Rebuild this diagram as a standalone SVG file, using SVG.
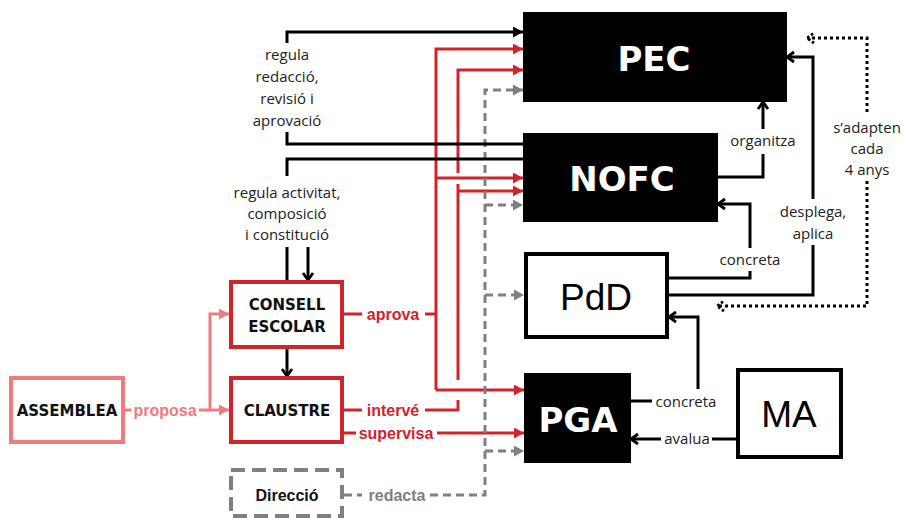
<svg xmlns="http://www.w3.org/2000/svg" width="904" height="519" viewBox="0 0 904 519">
<defs>
<style>
.k{stroke:#000;stroke-width:3;fill:none}
.r{stroke:#d2232a;stroke-width:3;fill:none}
.p{stroke:#f07a7d;stroke-width:3;fill:none}
.g{stroke:#808080;stroke-width:3;fill:none;stroke-dasharray:8 5}
.d{stroke:#000;stroke-width:3;fill:none;stroke-dasharray:3 3}
.lab{font-family:"Open Sans","DejaVu Sans",sans-serif;font-size:15px;fill:#222;text-anchor:middle}
.bl{font-family:"Liberation Sans",Arial,sans-serif;font-weight:bold;font-size:16px;text-anchor:middle}
.big{font-family:"DejaVu Sans",sans-serif;font-weight:bold;font-size:34px;fill:#fff;text-anchor:middle}
.reg{font-family:"Liberation Sans",Arial,sans-serif;font-size:37px;fill:#000;text-anchor:middle}
.nb{font-family:"DejaVu Sans",sans-serif;font-weight:bold;font-size:15px;fill:#111;text-anchor:middle}
</style>
<marker id="tk" markerUnits="userSpaceOnUse" viewBox="0 0 10 11" refX="10" refY="5.5" markerWidth="10" markerHeight="11" orient="auto"><path d="M0,0L10,5.5L0,11z" fill="#000"/></marker>
<marker id="tr" markerUnits="userSpaceOnUse" viewBox="0 0 10 11" refX="10" refY="5.5" markerWidth="10" markerHeight="11" orient="auto"><path d="M0,0L10,5.5L0,11z" fill="#d2232a"/></marker>
<marker id="tg" markerUnits="userSpaceOnUse" viewBox="0 0 10 11" refX="10" refY="5.5" markerWidth="10" markerHeight="11" orient="auto"><path d="M0,0L10,5.5L0,11z" fill="#808080"/></marker>
<marker id="tp" markerUnits="userSpaceOnUse" viewBox="0 0 10 11" refX="10" refY="5.5" markerWidth="10" markerHeight="11" orient="auto"><path d="M0,0L10,5.5L0,11z" fill="#f07a7d"/></marker>
<marker id="ck" markerUnits="userSpaceOnUse" viewBox="-2 -2 12 14" refX="8" refY="5" markerWidth="12" markerHeight="14" orient="auto" overflow="visible"><path d="M1,0L8,5L1,10" fill="none" stroke="#000" stroke-width="2.8"/></marker>
<marker id="cd" markerUnits="userSpaceOnUse" viewBox="-2 -2 12 14" refX="8" refY="5" markerWidth="12" markerHeight="14" orient="auto" overflow="visible"><path d="M1,0L8,5L1,10" fill="none" stroke="#000" stroke-width="2.8" stroke-dasharray="2.5 2"/></marker>
</defs>

<g id="connectors">
  <!-- red -->
  <path class="r" d="M436,390 V49 H523" marker-end="url(#tr)"/>
  <path class="r" d="M436,178 H523" marker-end="url(#tr)"/>
  <path class="r" d="M436,390 H524" marker-end="url(#tr)"/>
  <path class="r" d="M344,314 H362 M425,314 H436"/>
  <path class="r" d="M458,173 V70 H523" marker-end="url(#tr)"/>
  <path class="r" d="M458,184 V380"/>
  <path class="r" d="M458,191 H523" marker-end="url(#tr)"/>
  <path class="r" d="M425,410 H458 V400"/>
  <path class="r" d="M344,410 H362"/>
  <path class="r" d="M344,433 H356"/>
  <path class="r" d="M437,433 H524" marker-end="url(#tr)"/>
  <!-- gray dashed -->
  <path class="g" d="M430,495 H485 V90 H523" marker-end="url(#tg)"/>
  <path class="g" d="M485,205 H523" marker-end="url(#tg)"/>
  <path class="g" d="M485,295 H524" marker-end="url(#tg)"/>
  <path class="g" d="M485,451 H524" marker-end="url(#tg)"/>
  <path class="g" d="M344,495 H362"/>
  <!-- pink -->
  <path class="p" d="M125,410 H131"/>
  <path class="p" d="M199,410 H229" marker-end="url(#tp)"/>
  <path class="p" d="M210,410 V314 H229" marker-end="url(#tp)"/>
  <!-- black left -->
  <path class="k" d="M523,144 H287 V132"/>
  <path class="k" d="M287,43 V32 H523" marker-end="url(#tk)"/>
  <path class="k" d="M523,159 H287 V176"/>
  <path class="k" d="M287,247 V280"/>
  <path class="k" d="M308,247 V280" marker-end="url(#ck)"/>
  <path class="k" d="M287,349 V376" marker-end="url(#ck)"/>
  <!-- black right -->
  <path class="k" d="M718,177 H763 V154"/>
  <path class="k" d="M763,129 V102" marker-end="url(#ck)"/>
  <path class="k" d="M669,278 H750 V271"/>
  <path class="k" d="M750,248 V204 H718" marker-end="url(#ck)"/>
  <path class="k" d="M669,295 H813 V245"/>
  <path class="k" d="M813,199 V57 H787" marker-end="url(#ck)"/>
  <path class="k" d="M631,401 H652"/>
  <path class="k" d="M698,389 V317 H669" marker-end="url(#ck)"/>
  <path class="k" d="M736,439 H712"/>
  <path class="k" d="M661,439 H631" marker-end="url(#ck)"/>
  <!-- dotted -->
  <path class="d" d="M867,112 V38 H807" marker-end="url(#cd)"/>
  <path class="d" d="M867,181 V306 H717" marker-end="url(#cd)"/>
</g>

<g id="labels">
  <text class="lab" x="287" y="60">regula</text>
  <text class="lab" x="287" y="82">redacció,</text>
  <text class="lab" x="287" y="104">revisió i</text>
  <text class="lab" x="287" y="126">aprovació</text>
  <text class="lab" x="287" y="198">regula activitat,</text>
  <text class="lab" x="287" y="219">composició</text>
  <text class="lab" x="287" y="240">i constitució</text>
  <text class="lab" x="763" y="146">organitza</text>
  <text class="lab" x="750" y="265">concreta</text>
  <text class="lab" x="813" y="217">desplega,</text>
  <text class="lab" x="813" y="239">aplica</text>
  <text class="lab" x="867" y="133">s’adapten</text>
  <text class="lab" x="867" y="154">cada</text>
  <text class="lab" x="867" y="175">4 anys</text>
  <text class="lab" x="686" y="407">concreta</text>
  <text class="lab" x="687" y="444">avalua</text>
  <text class="bl" x="393" y="320" fill="#d2232a">aprova</text>
  <text class="bl" x="393" y="416" fill="#d2232a">intervé</text>
  <text class="bl" x="396" y="439" fill="#d2232a">supervisa</text>
  <text class="bl" x="165" y="416" fill="#f07a7d">proposa</text>
  <text class="bl" x="397" y="501" fill="#808080">redacta</text>
</g>

<g id="PEC">
  <rect x="523" y="12" width="264" height="90" fill="#000"/>
  <text class="big" x="654" y="71">PEC</text>
</g>
<g id="NOFC">
  <rect x="523" y="133" width="195" height="89" fill="#000"/>
  <text class="big" x="622" y="191">NOFC</text>
</g>
<g id="PdD">
  <rect x="526" y="254" width="141" height="83" fill="#fff" stroke="#000" stroke-width="4"/>
  <text class="reg" x="596" y="310">PdD</text>
</g>
<g id="PGA">
  <rect x="524" y="373" width="107" height="90" fill="#000"/>
  <text class="big" x="578" y="432">PGA</text>
</g>
<g id="MA">
  <rect x="738" y="370" width="103" height="87" fill="#fff" stroke="#000" stroke-width="4"/>
  <text class="reg" x="789" y="427">MA</text>
</g>
<g id="CONSELL">
  <rect x="231" y="282" width="111" height="65" fill="#fff" stroke="#d2232a" stroke-width="4"/>
  <text class="nb" x="287" y="310">CONSELL</text>
  <text class="nb" x="287" y="332">ESCOLAR</text>
</g>
<g id="CLAUSTRE">
  <rect x="231" y="378" width="111" height="64" fill="#fff" stroke="#d2232a" stroke-width="4"/>
  <text class="nb" x="287" y="416">CLAUSTRE</text>
</g>
<g id="ASSEMBLEA">
  <rect x="11" y="378" width="112" height="64" fill="#fff" stroke="#f07a7d" stroke-width="4"/>
  <text class="nb" x="67" y="416">ASSEMBLEA</text>
</g>
<g id="Direccio">
  <rect x="231" y="470" width="111" height="46" fill="#fff" stroke="#808080" stroke-width="4" stroke-dasharray="14 7"/>
  <text class="bl" x="287" y="501" fill="#111">Direcció</text>
</g>
</svg>
